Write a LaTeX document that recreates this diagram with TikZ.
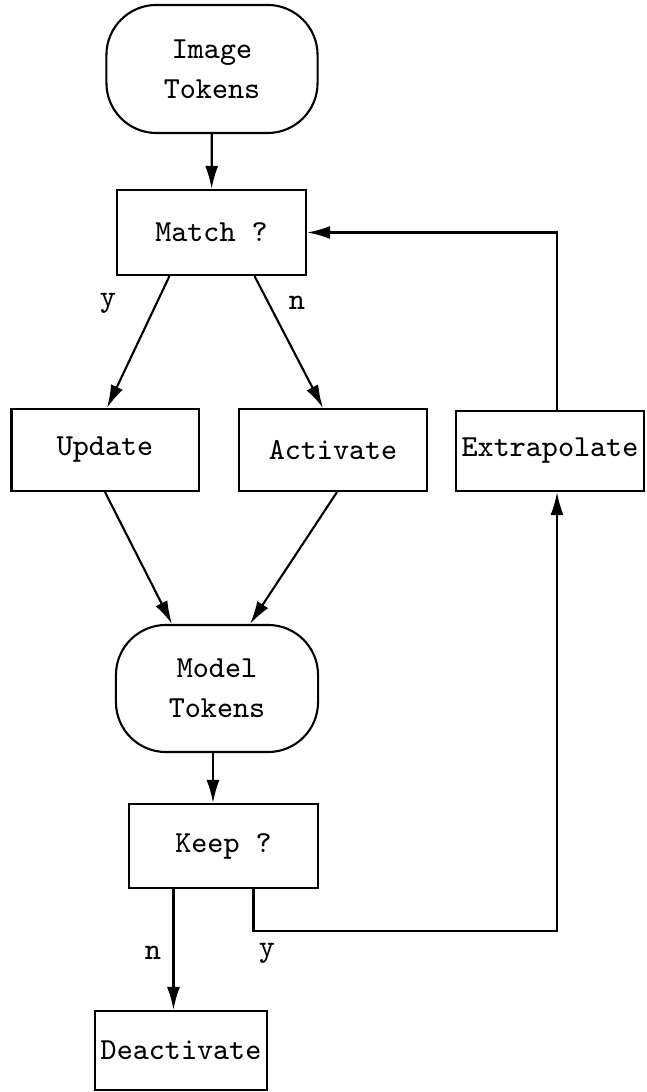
\documentclass[tikz,border=0pt]{standalone}
\usepackage{tikz}
\usetikzlibrary{arrows.meta}

\begin{document}
\begin{tikzpicture}[x=0.01cm,y=-0.01cm,line width=0.6pt,
  >={Latex[length=2.3mm,width=1.3mm]},
  font=\ttfamily\fontsize{8.7}{11.4}\selectfont,
  box/.style={draw,inner sep=0pt,align=center},
  token/.style={box,rounded corners=0.5cm}]

\useasboundingbox (0,0) rectangle (646,1092);

\node[token,minimum width=2.11cm,minimum height=1.28cm] (img) at (212,69) {Image\\Tokens};
\node[box,minimum width=1.89cm,minimum height=0.85cm] (match) at (211.5,232.5) {Match ?};
\node[box,minimum width=1.87cm,minimum height=0.82cm] (update) at (105,450) {Update};
\node[box,minimum width=1.88cm,minimum height=0.82cm] (activate) at (333,450) {Activate};
\node[box,minimum width=1.88cm,minimum height=0.80cm] (extrap) at (550,451) {Extrapolate};
\node[token,minimum width=2.02cm,minimum height=1.27cm] (model) at (217,688.5) {Model\\Tokens};
\node[box,minimum width=1.89cm,minimum height=0.84cm] (keep) at (223.5,846) {Keep ?};
\node[box,minimum width=1.72cm,minimum height=0.79cm] (deact) at (181,1050.5) {Deactivate};

% match branches
\draw[->] (img) -- (match);
\draw[->] ([xshift=-0.42cm]match.south) -- ([xshift=0.02cm]update.north);
\draw[->] ([xshift=0.43cm]match.south) -- ([xshift=-0.1cm]activate.north);
\node at (108,303) {y};
\node at (297,303) {n};

% back into the model tokens
\draw[->] (update.south) -- ([xshift=-0.45cm]model.north);
\draw[->] ([xshift=0.04cm]activate.south) -- ([xshift=0.33cm]model.north);
\draw[->] ([xshift=-0.04cm]model.south) -- ([xshift=-0.04cm]model.south |- keep.north);

% keep or drop
\draw[->] ([xshift=-0.5cm]keep.south) -- ([xshift=-0.5cm]keep.south |- deact.north);
\coordinate (yturn) at (557,931);
\draw[->] ([xshift=0.3cm]keep.south) |- (yturn) -- (yturn |- extrap.south);
\node at (153,953) {n};
\node at (267,953) {y};

% loop back to matching
\draw[->] ([xshift=0.07cm]extrap.north) |- (match.east);

\end{tikzpicture}
\end{document}
